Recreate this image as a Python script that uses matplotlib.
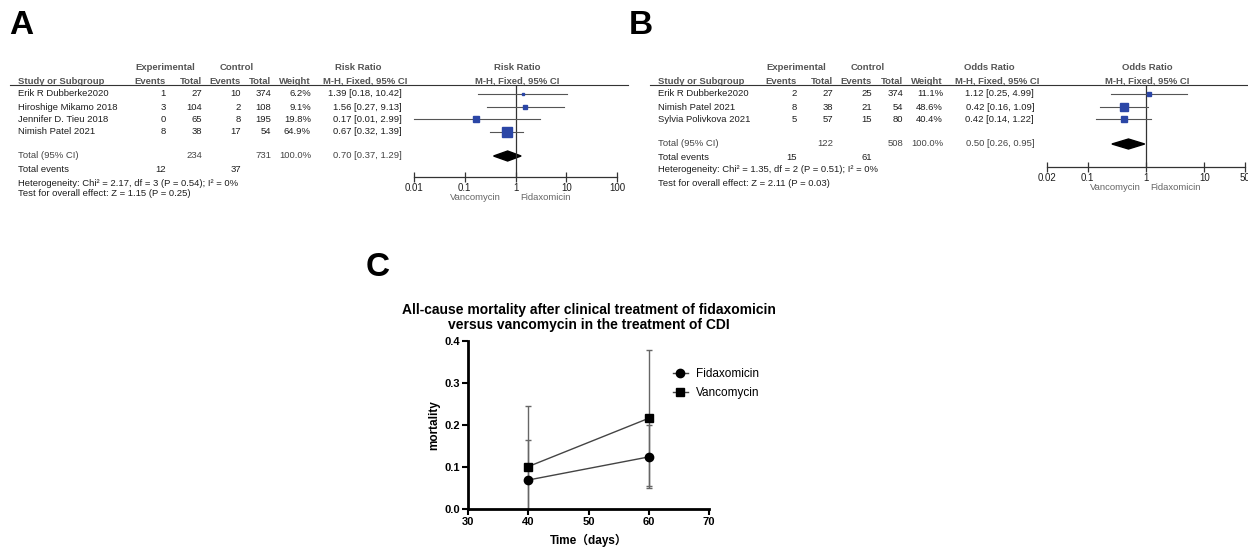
import matplotlib
matplotlib.use("Agg")
import matplotlib.pyplot as plt
from matplotlib.lines import Line2D

plt.rcParams['font.family'] = ['Liberation Sans', 'Noto Sans CJK SC', 'DejaVu Sans']

# ---- data: panel A (risk ratio) ----
studies_a = ['Erik R Dubberke2020', 'Hiroshige Mikamo 2018', 'Jennifer D. Tieu 2018', 'Nimish Patel 2021']
exp_events_a = [1, 3, 0, 8]
exp_total_a = [27, 104, 65, 38]
ctrl_events_a = [10, 2, 8, 17]
ctrl_total_a = [374, 108, 195, 54]
weight_a = [6.2, 9.1, 19.8, 64.9]
ratio_a = [1.39, 1.56, 0.17, 0.67]
lo_a = [0.18, 0.27, 0.01, 0.32]
hi_a = [10.42, 9.13, 2.99, 1.39]
pooled_a = (0.70, 0.37, 1.29)
totals_a = (234, 731, 12, 37)
het_a = 'Heterogeneity: Chi² = 2.17, df = 3 (P = 0.54); I² = 0%'
test_a = 'Test for overall effect: Z = 1.15 (P = 0.25)'
ticks_a = [0.01, 0.1, 1, 10, 100]
ticklabels_a = ['0.01', '0.1', '1', '10', '100']

# ---- data: panel B (odds ratio) ----
studies_b = ['Erik R Dubberke2020', 'Nimish Patel 2021', 'Sylvia Polivkova 2021']
exp_events_b = [2, 8, 5]
exp_total_b = [27, 38, 57]
ctrl_events_b = [25, 21, 15]
ctrl_total_b = [374, 54, 80]
weight_b = [11.1, 48.6, 40.4]
ratio_b = [1.12, 0.42, 0.42]
lo_b = [0.25, 0.16, 0.14]
hi_b = [4.99, 1.09, 1.22]
pooled_b = (0.50, 0.26, 0.95)
totals_b = (122, 508, 15, 61)
het_b = 'Heterogeneity: Chi² = 1.35, df = 2 (P = 0.51); I² = 0%'
test_b = 'Test for overall effect: Z = 2.11 (P = 0.03)'
ticks_b = [0.02, 0.1, 1, 10, 50]
ticklabels_b = ['0.02', '0.1', '1', '10', '50']

# ---- data: panel C ----
days = [40, 60]
fidax = [0.069, 0.124]
fidax_err = [0.096, 0.075]
vanco = [0.101, 0.216]
vanco_err = [0.144, 0.162]

W, H = 1248, 547
fig = plt.figure(figsize=(W / 100, H / 100), dpi=100)

TXT = '#1e1e1e'
HDR = '#555555'
FS = 6.8


def txt(x, y, s, **kw):
    kw.setdefault('fontsize', FS)
    kw.setdefault('color', TXT)
    fig.text(x / W, 1 - y / H, s, va='center', **kw)


def add_ax(x0, y0, x1, y1):
    return fig.add_axes([x0 / W, 1 - y1 / H, (x1 - x0) / W, (y1 - y0) / H])


def forest(x_study, cols, ratio_name, studies, ee, et, ce, ct, wt, est, lo, hi,
           pooled, totals, het, test, rows, tot_y, ev_y, het_y, test_y,
           line_x, ax_x, ax_y, xlim, ticks, ticklabels, hdr_ratio, hdr_forest,
           lbl_v, lbl_f, msk):
    c_ee, c_et, c_ce, c_ct, c_w, c_r = cols
    # headers
    txt(hdr_ratio[2], 68, 'Experimental', ha='center', color=HDR, fontweight='bold')
    txt(hdr_ratio[3], 68, 'Control', ha='center', color=HDR, fontweight='bold')
    txt(hdr_ratio[0], 68, ratio_name, ha='center', color=HDR, fontweight='bold')
    txt(hdr_forest, 68, ratio_name, ha='center', color=HDR, fontweight='bold')
    txt(x_study, 81, 'Study or Subgroup', ha='left', color=HDR, fontweight='bold')
    for x, s in zip(cols[:5], ['Events', 'Total', 'Events', 'Total', 'Weight']):
        txt(x, 81, s, ha='right', color=HDR, fontweight='bold')
    txt(hdr_ratio[1], 81, 'M-H, Fixed, 95% CI', ha='center', color=HDR, fontweight='bold')
    txt(hdr_forest, 81, 'M-H, Fixed, 95% CI', ha='center', color=HDR, fontweight='bold')
    fig.add_artist(Line2D([line_x[0] / W, line_x[1] / W], [1 - 85 / H] * 2,
                          color='#333333', lw=0.8))

    for i, s in enumerate(studies):
        y = rows[i]
        txt(x_study, y, s)
        txt(c_ee, y, str(ee[i]), ha='right')
        txt(c_et, y, str(et[i]), ha='right')
        txt(c_ce, y, str(ce[i]), ha='right')
        txt(c_ct, y, str(ct[i]), ha='right')
        txt(c_w, y, f'{wt[i]:.1f}%', ha='right')
        txt(c_r, y, f'{est[i]:.2f} [{lo[i]:.2f}, {hi[i]:.2f}]', ha='right')

    txt(x_study, tot_y, 'Total (95% CI)', color='#444444')
    txt(c_et, tot_y, str(totals[0]), ha='right', color='#444444')
    txt(c_ct, tot_y, str(totals[1]), ha='right', color='#444444')
    txt(c_w, tot_y, '100.0%', ha='right', color='#444444')
    txt(c_r, tot_y, f'{pooled[0]:.2f} [{pooled[1]:.2f}, {pooled[2]:.2f}]', ha='right',
        color='#444444')
    txt(x_study, ev_y, 'Total events')
    txt(c_ee, ev_y, str(totals[2]), ha='right')
    txt(c_ce, ev_y, str(totals[3]), ha='right')
    txt(x_study, het_y, het)
    txt(x_study, test_y, test)

    ax = add_ax(ax_x[0], 85, ax_x[1], ax_y)
    ax.set_xscale('log')
    ax.set_xlim(*xlim)
    ax.set_ylim(ax_y, 85)
    for sp in ['top', 'left', 'right']:
        ax.spines[sp].set_visible(False)
    ax.spines['bottom'].set_linewidth(0.9)
    ax.spines['bottom'].set_color('#333333')
    ax.set_yticks([])
    ax.set_xticks(ticks)
    ax.set_xticklabels(ticklabels)
    ax.minorticks_off()
    ax.tick_params(axis='x', direction='inout', length=7, width=0.9, labelsize=7,
                   pad=1, colors='#333333', labelcolor=TXT)
    ax.axvline(1, color='#333333', lw=0.9)
    for i in range(len(studies)):
        y = rows[i]
        ax.plot([lo[i], hi[i]], [y, y], color='#555555', lw=0.8, clip_on=False)
        ax.plot(est[i], y, marker='s', ms=msk * wt[i] ** 0.5 * 0.72, color='#2b46a6',
                mec='#2b46a6', clip_on=False)
    dh = 5
    ax.fill([pooled[1], pooled[0], pooled[2], pooled[0]],
            [tot_y, tot_y - dh, tot_y, tot_y + dh], color='black', clip_on=False)
    txt(lbl_v, ax_y + 21, 'Vancomycin', ha='right', color='#666666')
    txt(lbl_f, ax_y + 21, 'Fidaxomicin', ha='left', color='#666666')
    return ax


forest(18, [166, 202, 241, 271, 311, 402], 'Risk Ratio', studies_a,
       exp_events_a, exp_total_a, ctrl_events_a, ctrl_total_a, weight_a,
       ratio_a, lo_a, hi_a, pooled_a, totals_a, het_a, test_a,
       [94, 107, 119, 132], 156, 170, 183, 194,
       (10, 628), (414, 617), 177, (0.01, 100), ticks_a, ticklabels_a,
       (358, 365, 165, 237), 517, 501, 520, 1.2)

forest(658, [797, 833, 872, 903, 943, 1034], 'Odds Ratio', studies_b,
       exp_events_b, exp_total_b, ctrl_events_b, ctrl_total_b, weight_b,
       ratio_b, lo_b, hi_b, pooled_b, totals_b, het_b, test_b,
       [94, 107, 119], 144, 158, 170, 183,
       (650, 1248), (1047, 1245), 167, (0.02, 50), ticks_b, ticklabels_b,
       (989, 997, 796, 868), 1147, 1141, 1150, 1.05)

# panel letters
txt(9, 25, 'A', fontsize=24, fontweight='bold', color='black')
txt(629, 25, 'B', fontsize=24, fontweight='bold', color='black')
txt(366, 268, 'C', fontsize=24, fontweight='bold', color='black')

# ---- panel C ----
ax = add_ax(468, 341, 709, 509)
ax.errorbar(days, fidax, yerr=fidax_err, fmt='none', ecolor='#666666',
            elinewidth=1, capsize=2.5, capthick=1)
ax.errorbar(days, vanco, yerr=vanco_err, fmt='none', ecolor='#666666',
            elinewidth=1, capsize=2.5, capthick=1)
h1, = ax.plot(days, fidax, color='#444444', lw=1, marker='o', ms=6,
              mfc='black', mec='black', label='Fidaxomicin')
h2, = ax.plot(days, vanco, color='#444444', lw=1, marker='s', ms=5.5,
              mfc='black', mec='black', label='Vancomycin')
ax.set_xlim(30, 70)
ax.set_ylim(0, 0.4)
ax.set_xticks([30, 40, 50, 60, 70])
ax.set_yticks([0.0, 0.1, 0.2, 0.3, 0.4])
ax.set_yticklabels(['0.0', '0.1', '0.2', '0.3', '0.4'])
for sp in ['top', 'right']:
    ax.spines[sp].set_visible(False)
for sp in ['left', 'bottom']:
    ax.spines[sp].set_linewidth(2)
ax.tick_params(length=4, width=1.5, labelsize=8, pad=2)
for t in ax.get_xticklabels() + ax.get_yticklabels():
    t.set_fontweight('bold')
ax.set_ylabel('mortality', fontsize=8.5, fontweight='bold', labelpad=3)
ax.set_xlabel('Time（days）', fontsize=8.5, fontweight='bold', labelpad=5)
ax.set_title('All-cause mortality after clinical treatment of fidaxomicin\n'
             'versus vancomycin in the treatment of CDI',
             fontsize=10, fontweight='bold', pad=9, linespacing=1.05)
ax.legend(handles=[h1, h2], loc='upper left', bbox_to_anchor=(668 / W, 1 - 363 / H),
          bbox_transform=fig.transFigure, frameon=False, fontsize=8.5,
          handlelength=1.3, handletextpad=0.7, labelspacing=0.6, borderaxespad=0)

fig.savefig('out.png', dpi=100)
